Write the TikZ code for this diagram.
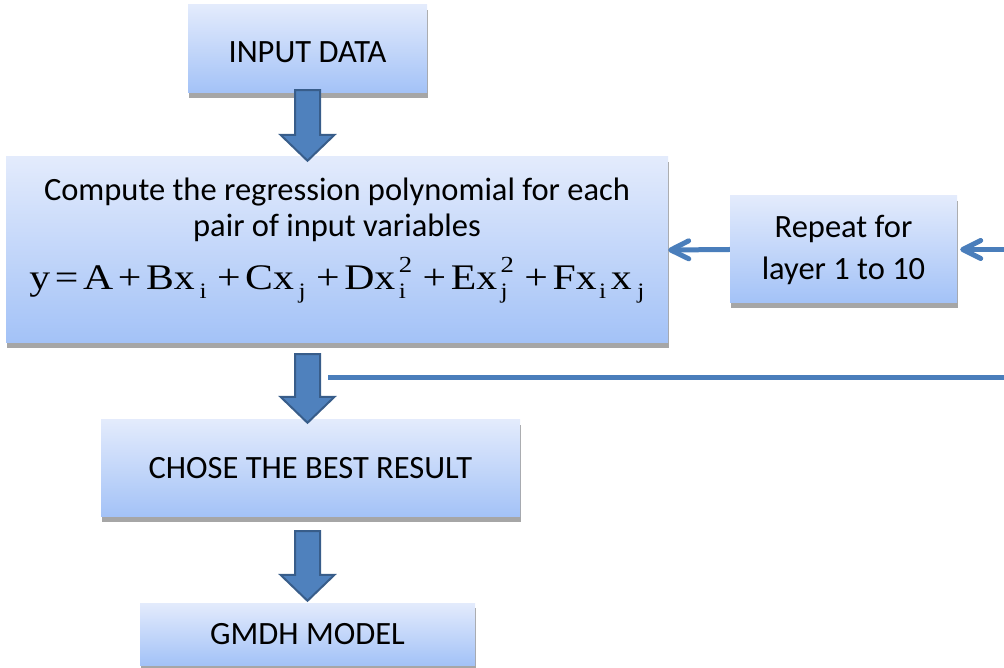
\documentclass[tikz,border=0pt]{standalone}
\usepackage{graphicx}
\usepackage{fontspec}
\setmainfont{Carlito}
\newfontfamily\eqfont{Liberation Serif}
\usetikzlibrary{arrows.meta,%
	calc,%
	shadows}

\definecolor{boxtop}{RGB}{227,235,252}
\definecolor{boxbot}{RGB}{163,194,247}
\definecolor{boxshadow}{RGB}{166,166,166}
\definecolor{arrowfill}{RGB}{79,129,189}
\definecolor{arrowedge}{RGB}{56,93,138}
\definecolor{linkblue}{RGB}{74,126,187}

% fat arrow pointing down, from #1 to the tip #2
\newcommand{\DownArrow}[2]{%
	\draw[BlockArrow] let \p1=(#1), \p2=(#2) in
		(\x1-12.5pt,\y1) -- (\x1+12.5pt,\y1) -- (\x1+12.5pt,\y2+26pt)
		-- (\x1+27pt,\y2+26pt) -- (\x1,\y2) -- (\x1-27pt,\y2+26pt)
		-- (\x1-12.5pt,\y2+26pt) -- cycle;}
% index (#2) and power (#3) after a gap #1
\newcommand{\SubSup}[3]{\hspace{#1}\ooalign{\raisebox{-9pt}{\fontsize{22}{22}\selectfont #2}\cr
	\raisebox{17pt}{\fontsize{23}{23}\selectfont #3}\cr}}
\newcommand{\op}[1]{\kern4pt#1\kern4pt}

\begin{document}
\begin{tikzpicture}[x=1pt,y=1pt]
			\tikzstyle{BoxStyle} = [rectangle, inner sep=0pt, align=center,
				top color=boxtop, bottom color=boxbot,
				drop shadow={shadow xshift=0.5pt, shadow yshift=-5pt, fill=boxshadow, opacity=1},
				font=\fontsize{32.5}{36}\selectfont]
			\tikzstyle{BlockArrow} = [fill=arrowfill, draw=arrowedge, line width=2pt, line join=miter]
			\tikzstyle{ThinArrow} = [draw=linkblue, line width=5pt,
				-{Straight Barb[round,length=18pt,width=18pt]}]
			\useasboundingbox (0,0) rectangle (1004,667);

			\node[BoxStyle, minimum width=239pt, minimum height=88pt, text height=27pt] (inp) at (307.5,618) {INPUT DATA};
			\node[BoxStyle, minimum width=662pt, minimum height=186pt, text depth=33pt] (poly) at (337,417)
				{Compute the regression polynomial for each\\ pair of input variables\\[17pt]
				\resizebox{615pt}{\height}{\eqfont\fontsize{36}{40}\selectfont y\op{=}A\op{+}Bx\SubSup{4pt}{i}{}\kern5pt\op{+}Cx\SubSup{4pt}{j}{}\kern5pt%
				\op{+}Dx\SubSup{3pt}{i}{2}\kern5pt\op{+}Ex\SubSup{3pt}{j}{2}\kern5pt\op{+}Fx\SubSup{2pt}{i}{}\kern4pt x\SubSup{5pt}{j}{}}};
			\node[BoxStyle, minimum width=227pt, minimum height=107pt, font=\fontsize{32.5}{42}\selectfont] (rep) at (843.5,417.5)
				{Repeat for\\ layer 1 to 10};
			\node[BoxStyle, minimum width=419pt, minimum height=97pt] (chose) at (310.5,198.5) {CHOSE THE BEST RESULT};
			\node[BoxStyle, minimum width=335pt, minimum height=62pt] (gmdh) at (307.5,33) {GMDH MODEL};

			\coordinate (repin) at (1004,417.5);
			\coordinate (loopA) at (328,289);
			\coordinate (loopB) at (1004,289);

			\draw[ThinArrow] (rep.west) -- (poly.east);
			\draw[ThinArrow, shorten >=3pt] (repin) -- (rep.east);
			\draw[draw=linkblue, line width=5pt] (loopA) -- (loopB);

			\DownArrow{$(inp.south)+(0,3)$}{$(inp.south |- poly.north)+(0,-4)$}
			\DownArrow{$(inp.south |- poly.south)+(0,-11)$}{$(inp.south |- chose.north)+(0,-3)$}
			\DownArrow{$(gmdh.north |- chose.south)+(0,-14)$}{$(gmdh.north)+(0,2)$}
			\end{tikzpicture}
\end{document}
